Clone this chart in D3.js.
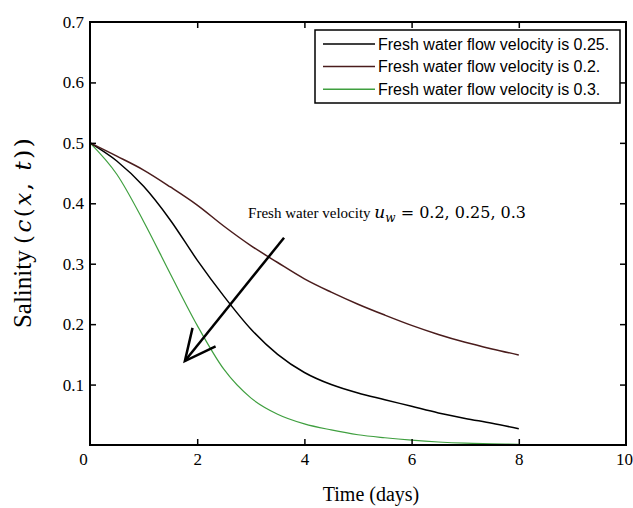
<!DOCTYPE html>
<html>
<head>
<meta charset="utf-8">
<script src="https://cdn.jsdelivr.net/npm/d3@7"></script>
<style>
  body { margin: 0; background: #fff; }
  svg { display: block; }
</style>
</head>
<body>
<svg id="chart" width="633" height="508"></svg>
<script>
// ---- data ----
const timeDays = [0, 0.5, 1, 1.5, 2, 2.5, 3, 3.5, 4, 4.5, 5, 5.5, 6, 6.5, 7, 7.5, 8];
const salinity025 = [0.500, 0.470, 0.428, 0.372, 0.306, 0.246, 0.192, 0.150, 0.120, 0.100, 0.086, 0.075, 0.064, 0.053, 0.044, 0.036, 0.027];
const salinity020 = [0.500, 0.478, 0.455, 0.427, 0.397, 0.362, 0.330, 0.302, 0.275, 0.253, 0.233, 0.215, 0.198, 0.183, 0.170, 0.159, 0.149];
const salinity030 = [0.500, 0.448, 0.370, 0.283, 0.198, 0.125, 0.078, 0.051, 0.035, 0.025, 0.017, 0.012, 0.008, 0.005, 0.003, 0.002, 0.001];
const seriesNames = ["Fresh water flow velocity is 0.25.", "Fresh water flow velocity is 0.2.", "Fresh water flow velocity is 0.3."];
const xTicks = [0, 2, 4, 6, 8, 10];
const yTicks = [0.1, 0.2, 0.3, 0.4, 0.5, 0.6, 0.7];
const annotationText = "Fresh water velocity";
const annotationMath = " = 0.2, 0.25, 0.3";
const arrowTail = [3.62, 0.343];
const arrowTip = [1.77, 0.139];
const annotationPos = [2.95, 0.376];

// ---- layout ----
const svg = d3.select("#chart");
const L = 90, R = 626, T = 22, B = 445;
const x = d3.scaleLinear().domain([0, 10]).range([L, R]);
const y = d3.scaleLinear().domain([0, 0.7]).range([B, T]);
const colors = ["#000000", "#4a1c1c", "#3f9f3f"];
const serif = "'Liberation Serif', 'Times New Roman', serif";
const mathFont = "'DejaVu Serif', serif";

// curves
const series = [salinity025, salinity020, salinity030];
const line = d3.line().x(d => x(d[0])).y(d => y(d[1])).curve(d3.curveMonotoneX);
[2, 0, 1].forEach(i => {
  svg.append("path")
    .datum(timeDays.map((t, k) => [t, series[i][k]]))
    .attr("fill", "none")
    .attr("stroke", colors[i])
    .attr("stroke-width", i === 2 ? 1.2 : 1.5)
    .attr("d", line);
});

// axes
const tickLen = 6;
const gx = svg.append("g").attr("transform", `translate(0,${B})`)
  .call(d3.axisBottom(x).tickValues(xTicks).tickFormat(d3.format("d")).tickSize(-tickLen).tickPadding(8));
const gxt = svg.append("g").attr("transform", `translate(0,${T})`)
  .call(d3.axisTop(x).tickValues(xTicks).tickFormat("").tickSize(-tickLen));
const gy = svg.append("g").attr("transform", `translate(${L},0)`)
  .call(d3.axisLeft(y).tickValues(yTicks).tickFormat(d3.format(".1f")).tickSize(-tickLen).tickPadding(6));
const gyr = svg.append("g").attr("transform", `translate(${R},0)`)
  .call(d3.axisRight(y).tickValues(yTicks).tickFormat("").tickSize(-tickLen));
[gx, gxt, gy, gyr].forEach(g => {
  g.select(".domain").remove();
  g.selectAll("line").attr("stroke", "#000").attr("stroke-width", 1.5);
  g.selectAll("text").attr("font-family", serif).attr("font-size", 17).attr("fill", "#000");
});
gx.selectAll(".tick text").filter(d => d === 0).attr("dx", -7);
gx.selectAll(".tick text").filter(d => d === 10).attr("dx", -2);
gx.selectAll(".tick line").filter(d => d === 0 || d === 10).remove();
gxt.selectAll(".tick line").filter(d => d === 0 || d === 10).remove();
gy.selectAll(".tick line").filter(d => d === 0.7).remove();
gyr.selectAll(".tick line").filter(d => d === 0.7).remove();

// frame
svg.append("rect").attr("x", L).attr("y", T).attr("width", R - L).attr("height", B - T)
  .attr("fill", "none").attr("stroke", "#000").attr("stroke-width", 2);

// axis titles
svg.append("text").attr("x", 371).attr("y", 501).attr("text-anchor", "middle")
  .attr("font-family", serif).attr("font-size", 20).text("Time (days)");
const yt = svg.append("text").attr("transform", "translate(31,232) rotate(-90)")
  .attr("text-anchor", "middle").attr("font-family", serif).attr("font-size", 25);
yt.append("tspan").text("Salinity ");
const mt = (s, it) => yt.append("tspan").attr("font-family", mathFont).attr("font-size", 23)
  .attr("letter-spacing", 2.5).attr("font-style", it ? "italic" : "normal").text(s);
mt("(", false); mt("c", true); mt("(", false); mt("x", true); mt(",", false);
mt(" ", false); mt("t", true); mt("))", false);

// annotation
const at = svg.append("text").attr("x", x(annotationPos[0])).attr("y", y(annotationPos[1]))
  .attr("font-family", serif).attr("font-size", 15);
at.append("tspan").text(annotationText + "  ");
at.append("tspan").attr("font-family", mathFont).attr("font-style", "italic").attr("font-size", 17).text("u");
at.append("tspan").attr("font-family", mathFont).attr("font-style", "italic").attr("font-size", 12).attr("dy", 4).text("w");
at.append("tspan").attr("font-family", mathFont).attr("font-size", 16).attr("dy", -4).text(annotationMath);

// arrow
const tx = x(arrowTip[0]), ty = y(arrowTip[1]);
svg.append("line").attr("x1", x(arrowTail[0])).attr("y1", y(arrowTail[1])).attr("x2", tx).attr("y2", ty)
  .attr("stroke", "#000").attr("stroke-width", 2.5);
const ang = Math.atan2(y(arrowTail[1]) - ty, x(arrowTail[0]) - tx);
const headLen = 34, spread = 0.45;
svg.append("path")
  .attr("d", `M${tx + headLen * Math.cos(ang - spread)},${ty + headLen * Math.sin(ang - spread)} L${tx},${ty} L${tx + headLen * Math.cos(ang + spread)},${ty + headLen * Math.sin(ang + spread)}`)
  .attr("fill", "none").attr("stroke", "#000").attr("stroke-width", 2.5).attr("stroke-linejoin", "miter");

// legend
const lg = svg.append("g");
lg.append("rect").attr("x", 315).attr("y", 30).attr("width", 305).attr("height", 73)
  .attr("fill", "#fff").attr("stroke", "#000").attr("stroke-width", 1.5);
seriesNames.forEach((name, i) => {
  const ly = 44 + i * 22.6;
  lg.append("line").attr("x1", 323).attr("x2", 375).attr("y1", ly).attr("y2", ly)
    .attr("stroke", colors[i]).attr("stroke-width", 1.5);
  lg.append("text").attr("x", 378).attr("y", ly + 5.5)
    .attr("font-family", "'Liberation Sans', Arial, sans-serif").attr("font-size", 16).text(name);
});
</script>
</body>
</html>
